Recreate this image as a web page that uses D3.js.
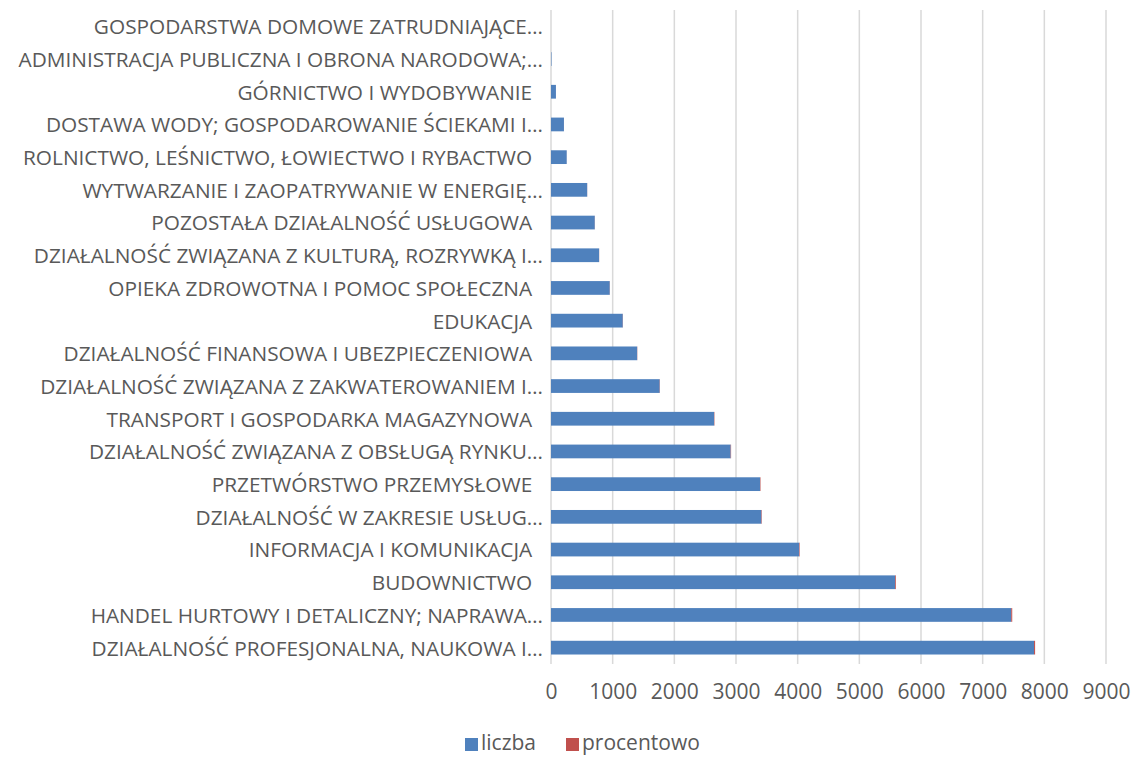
<!DOCTYPE html>
<html>
<head>
<meta charset="utf-8">
<script src="https://cdn.jsdelivr.net/npm/d3@7"></script>
<style>
  body { margin: 0; background: #fff; }
  svg text { font-family: "Open Sans", sans-serif; font-weight: 400; fill: #595959; }
</style>
</head>
<body>
<svg id="chart"></svg>
<script>
var width = 1134;
var height = 758;

// categories from top to bottom
var categories = [
  "GOSPODARSTWA DOMOWE ZATRUDNIAJĄCE…",
  "ADMINISTRACJA PUBLICZNA I OBRONA NARODOWA;…",
  "GÓRNICTWO I WYDOBYWANIE  ",
  "DOSTAWA WODY; GOSPODAROWANIE ŚCIEKAMI I…",
  "ROLNICTWO, LEŚNICTWO, ŁOWIECTWO I RYBACTWO  ",
  "WYTWARZANIE I ZAOPATRYWANIE W ENERGIĘ…",
  "POZOSTAŁA DZIAŁALNOŚĆ USŁUGOWA  ",
  "DZIAŁALNOŚĆ ZWIĄZANA Z KULTURĄ, ROZRYWKĄ I…",
  "OPIEKA ZDROWOTNA I POMOC SPOŁECZNA  ",
  "EDUKACJA  ",
  "DZIAŁALNOŚĆ FINANSOWA I UBEZPIECZENIOWA  ",
  "DZIAŁALNOŚĆ ZWIĄZANA Z ZAKWATEROWANIEM I…",
  "TRANSPORT I GOSPODARKA MAGAZYNOWA  ",
  "DZIAŁALNOŚĆ ZWIĄZANA Z OBSŁUGĄ RYNKU…",
  "PRZETWÓRSTWO PRZEMYSŁOWE  ",
  "DZIAŁALNOŚĆ W ZAKRESIE USŁUG…",
  "INFORMACJA I KOMUNIKACJA  ",
  "BUDOWNICTWO  ",
  "HANDEL HURTOWY I DETALICZNY; NAPRAWA…",
  "DZIAŁALNOŚĆ PROFESJONALNA, NAUKOWA I…"
];
var liczba = [0, 8, 80, 210, 255, 587, 710, 780, 953, 1164, 1397, 1763, 2645, 2914, 3390, 3412, 4024, 5582, 7463, 7833];
var procentowo = [0, 0.1, 0.2, 0.5, 0.6, 1.3, 1.6, 1.7, 2.1, 2.6, 3.1, 3.9, 5.9, 6.5, 7.5, 7.6, 8.9, 12.4, 16.5, 17.3];
var xTicks = [0, 1000, 2000, 3000, 4000, 5000, 6000, 7000, 8000, 9000];
var seriesNames = ["liczba", "procentowo"];
var colors = ["#4F81BD", "#C0504D"];

var rows = categories.map((c, i) => ({ cat: c, liczba: liczba[i], procentowo: procentowo[i] }));
var stacked = d3.stack().keys(seriesNames)(rows);

var svg = d3.select('#chart')
  .attr('width', width)
  .attr('height', height);

var x = d3.scaleLinear()
  .domain([0, 9000])
  .range([551, 1106]);

var y = d3.scaleBand()
  .domain(categories)
  .range([10, 664])
  .paddingInner(0.58)
  .paddingOuter(0.29);

// gridlines
svg.append("g")
  .selectAll("line")
  .data(xTicks)
  .join("line")
    .attr("x1", d => x(d))
    .attr("x2", d => x(d))
    .attr("y1", 10)
    .attr("y2", 664)
    .attr("stroke", "#D9D9D9")
    .attr("stroke-width", 1.5);

// bars (stacked: liczba + procentowo)
svg.append("g")
  .selectAll("g")
  .data(stacked)
  .join("g")
    .attr("fill", (d, i) => colors[i])
  .selectAll("rect")
  .data(d => d)
  .join("rect")
    .attr("x", d => x(d[0]))
    .attr("y", d => y(d.data.cat))
    .attr("width", d => x(d[1]) - x(d[0]))
    .attr("height", y.bandwidth());

// category labels
var yAxis = svg.append("g")
  .attr("transform", "translate(543,0)")
  .call(d3.axisLeft(y).tickSize(0).tickPadding(0));
yAxis.select(".domain").remove();
yAxis.selectAll("text")
  .style("font-size", "20.8px")
  .style("white-space", "pre")
  .attr("dy", "0.38em")
  .attr("fill", "#595959");

// value labels
var xAxis = svg.append("g")
  .attr("transform", "translate(0,684)")
  .call(d3.axisBottom(x).tickValues(xTicks).tickSize(0).tickPadding(0).tickFormat(d3.format("d")));
xAxis.select(".domain").remove();
xAxis.selectAll("text")
  .style("font-size", "21px")
  .attr("dy", "0.7em")
  .attr("fill", "#595959");

// legend
var legend = svg.append("g");
var legendX = [465, 566];
seriesNames.forEach((name, i) => {
  legend.append("rect")
    .attr("x", legendX[i])
    .attr("y", 738)
    .attr("width", 13)
    .attr("height", 13)
    .attr("fill", colors[i]);
  legend.append("text")
    .attr("x", legendX[i] + 16)
    .attr("y", 743)
    .attr("dy", "0.35em")
    .style("font-size", "21px")
    .text(name);
});
</script>
</body>
</html>
